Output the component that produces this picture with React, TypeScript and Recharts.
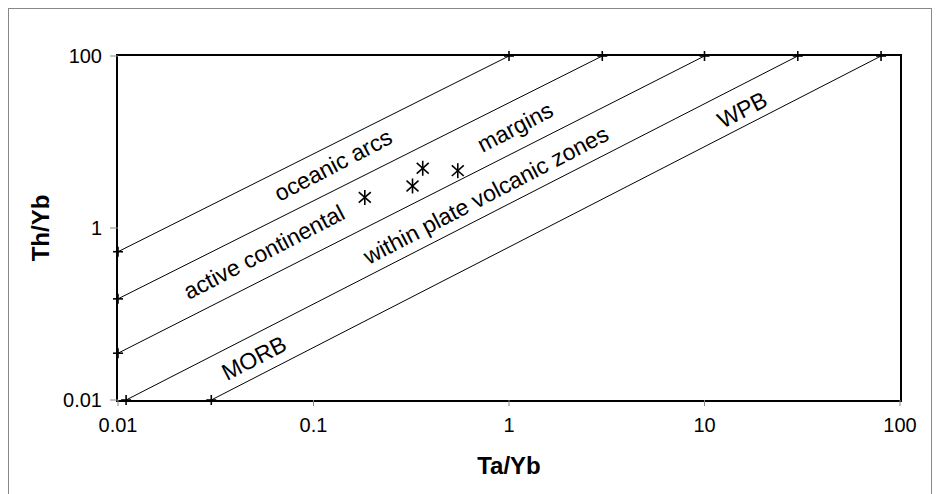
import React from "react";
import { ScatterChart, Scatter, XAxis, YAxis } from "recharts";

// grenzlinien im Th/Yb - Ta/Yb diagramm (anfang und ende am rahmen)
const oceanicArcsLine = [
  { x: 0.01, y: 0.53 },
  { x: 1, y: 100 },
];
const activeMarginLine = [
  { x: 0.01, y: 0.15 },
  { x: 3, y: 100 },
];
const plateZoneLine = [
  { x: 0.01, y: 0.035 },
  { x: 10, y: 100 },
];
const morbLine = [
  { x: 0.011, y: 0.01 },
  { x: 30, y: 100 },
];
const wpbLine = [
  { x: 0.03, y: 0.01 },
  { x: 80, y: 100 },
];

const samples = [
  { x: 0.183, y: 2.27 },
  { x: 0.321, y: 3.08 },
  { x: 0.362, y: 4.95 },
  { x: 0.547, y: 4.64 },
];

const zoneLabels = [
  { x: 0.126, y: 5.4, text: "oceanic arcs" },
  { x: 0.0558, y: 0.526, text: "active continental" },
  { x: 1.074, y: 14.9, text: "margins" },
  { x: 0.762, y: 2.42, text: "within plate volcanic zones" },
  { x: 0.0496, y: 0.0308, text: "MORB" },
  { x: 15.6, y: 23.6, text: "WPB" },
];

const xTicks = [0.01, 0.1, 1, 10, 100];
const yTicks = [0.01, 1, 100];

const boundaries = [oceanicArcsLine, activeMarginLine, plateZoneLine, morbLine, wpbLine];
const endPoints = boundaries.flat();

const font = "'Liberation Sans', Arial, sans-serif";

// kleines kreuz wo die linie den rahmen trifft
const CrossTick = (props: any) => {
  const { cx, cy } = props;
  return (
    <g stroke="#000" strokeWidth={1.6}>
      <line x1={cx - 5} y1={cy} x2={cx + 5} y2={cy} />
      <line x1={cx} y1={cy - 5} x2={cx} y2={cy + 5} />
    </g>
  );
};

const NoDot = () => <g />;

const Asterisk = (props: any) => {
  const { cx, cy } = props;
  return (
    <g stroke="#000" strokeWidth={1.6}>
      <line x1={cx} y1={cy - 7.5} x2={cx} y2={cy + 7.5} />
      <line x1={cx - 6} y1={cy - 5.3} x2={cx + 6} y2={cy + 5.3} />
      <line x1={cx - 6} y1={cy + 5.3} x2={cx + 6} y2={cy - 5.3} />
    </g>
  );
};

const ZoneText = (props: any) => {
  const { cx, cy } = props;
  const text = props.payload?.text ?? props.text;
  return (
    <text
      x={cx}
      y={cy}
      transform={`rotate(-27.5 ${cx} ${cy})`}
      textAnchor="middle"
      dominantBaseline="central"
      fontSize={23}
      fontFamily={font}
      fill="#000"
    >
      {text}
    </text>
  );
};

export default function App() {
  return (
    <div style={{ position: "absolute", left: 0, top: 0, width: 939, height: 494, background: "#fff", fontFamily: font }}>
      <div
        style={{
          position: "absolute",
          left: 8,
          top: 8,
          width: 922,
          height: 500,
          borderLeft: "1px solid #888",
          borderTop: "1px solid #888",
          borderRight: "1px solid #888",
        }}
      />
      {/* rahmen um die zeichenflaeche */}
      <div
        style={{
          position: "absolute",
          left: 117,
          top: 55,
          width: 782,
          height: 344,
          border: "2px solid #000",
          boxSizing: "content-box",
          marginLeft: -1,
          marginTop: -1,
        }}
      />
      <ScatterChart
        width={939}
        height={494}
        margin={{ top: 56, right: 39, bottom: 64, left: 58 }}
        style={{ position: "absolute", left: 0, top: 0 }}
      >
        <XAxis
          type="number"
          dataKey="x"
          scale="log"
          domain={[0.01, 100]}
          ticks={xTicks}
          axisLine={false}
          tickLine={{ stroke: "#888" }}
          tickSize={6}
          tickMargin={12}
          height={30}
          tick={{ fill: "#000", fontSize: 20, fontFamily: font }}
        />
        <YAxis
          type="number"
          dataKey="y"
          scale="log"
          domain={[0.01, 100]}
          ticks={yTicks}
          axisLine={false}
          tickLine={{ stroke: "#888" }}
          tickSize={8}
          tickMargin={8}
          width={60}
          tick={{ fill: "#000", fontSize: 20, fontFamily: font }}
        />
        {boundaries.map((d, i) => (
          <Scatter
            key={i}
            data={d}
            line={{ stroke: "#000", strokeWidth: 1 }}
            shape={NoDot}
            isAnimationActive={false}
          />
        ))}
        <Scatter data={endPoints} shape={CrossTick} isAnimationActive={false} />
        <Scatter data={samples} shape={Asterisk} isAnimationActive={false} />
        <Scatter data={zoneLabels} shape={ZoneText} isAnimationActive={false} />
      </ScatterChart>
      <div
        style={{
          position: "absolute",
          left: 509,
          top: 466,
          transform: "translate(-50%, -50%)",
          fontWeight: "bold",
          fontSize: 24,
          whiteSpace: "nowrap",
        }}
      >
        Ta/Yb
      </div>
      <div
        style={{
          position: "absolute",
          left: 41,
          top: 228,
          transform: "translate(-50%, -50%) rotate(-90deg)",
          fontWeight: "bold",
          fontSize: 24,
          whiteSpace: "nowrap",
        }}
      >
        Th/Yb
      </div>
    </div>
  );
}
